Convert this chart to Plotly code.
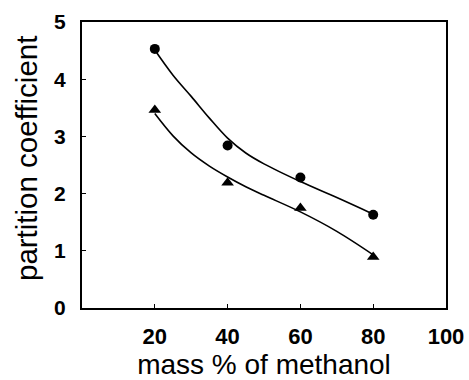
import plotly.graph_objects as go

x_data = [20, 40, 60, 80]
circle_vals = [4.53, 2.84, 2.28, 1.63]
triangle_vals = [3.46, 2.19, 1.75, 0.89]

curve_x = [20, 25, 30, 35, 40, 45, 50, 60, 70, 80]
circle_curve = [4.51, 4.07, 3.70, 3.32, 2.97, 2.71, 2.52, 2.21, 1.93, 1.64]
triangle_curve = [3.40, 3.01, 2.71, 2.48, 2.29, 2.12, 1.97, 1.68, 1.34, 0.93]

x_ticks = [20, 40, 60, 80, 100]
y_ticks = [0, 1, 2, 3, 4, 5]

fig = go.Figure()
fig.add_trace(go.Scatter(x=curve_x, y=circle_curve, mode="lines",
                         line=dict(color="black", width=1.6, shape="spline", smoothing=1.0),
                         showlegend=False))
fig.add_trace(go.Scatter(x=curve_x, y=triangle_curve, mode="lines",
                         line=dict(color="black", width=1.6, shape="spline", smoothing=1.0),
                         showlegend=False))
fig.add_trace(go.Scatter(x=x_data, y=circle_vals, mode="markers",
                         marker=dict(symbol="circle", size=10, color="black"), showlegend=False))
fig.add_trace(go.Scatter(x=x_data, y=triangle_vals, mode="markers",
                         marker=dict(symbol="triangle-up", size=11, color="black"), showlegend=False))

axis_common = dict(showline=True, linecolor="black", linewidth=2, mirror=True,
                   ticks="inside", ticklen=4, tickcolor="black", showgrid=False, zeroline=False,
                   automargin=False)

fig.update_layout(
    width=469, height=380,
    margin=dict(l=82, r=23, t=22, b=72),
    paper_bgcolor="white", plot_bgcolor="white",
    font=dict(family="Liberation Sans, Arial, sans-serif", color="black"),
    xaxis=dict(range=[0, 100], tickvals=x_ticks, ticktext=[str(v) for v in x_ticks],
               tickfont=dict(size=22, family="Liberation Sans, Arial", weight="bold"),
               ticklabelstandoff=8,
               title=dict(text="mass % of methanol", font=dict(size=28)),
               **axis_common),
    yaxis=dict(range=[0, 5], tickvals=y_ticks, ticktext=[str(v) for v in y_ticks],
               tickfont=dict(size=21, family="Liberation Sans, Arial", weight="bold"),
               ticklabelstandoff=10,
               **axis_common),
    annotations=[dict(text="partition coefficient", textangle=-90, xref="paper", yref="paper",
                      x=-0.151, y=0.521, xanchor="center", yanchor="middle", showarrow=False,
                      font=dict(size=29.5))],
)

fig.write_html("out.html")
